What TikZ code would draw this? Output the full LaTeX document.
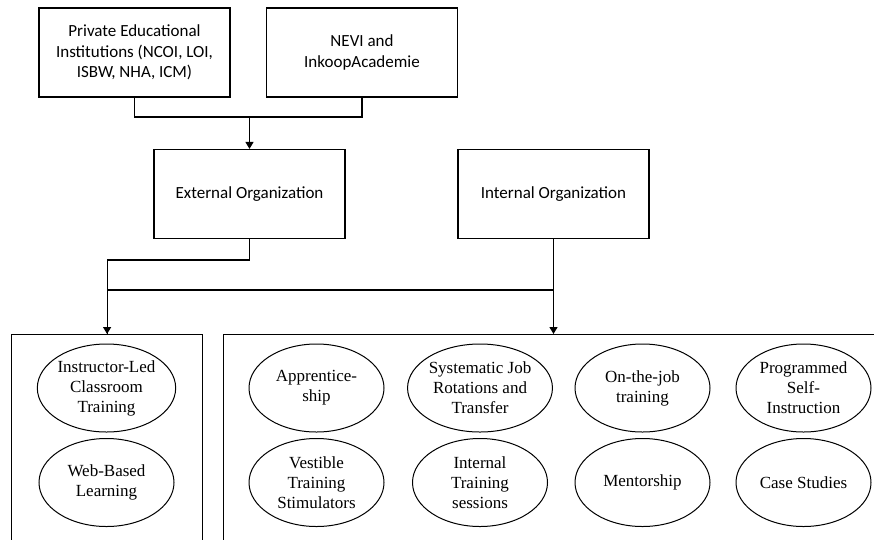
\documentclass[tikz,border=0pt]{standalone}
\usepackage{fontspec}
\setmainfont{Liberation Serif}
\newfontfamily\boxfont{Carlito}
\usetikzlibrary{arrows.meta, positioning, shapes.geometric}

\begin{document}
\begin{tikzpicture}[x=1pt, y=-1pt,
  orgbox/.style={draw, line width=1.2pt, minimum width=191pt, minimum height=89pt,
                 inner sep=2pt, align=center, font=\boxfont\fontsize{17}{20.5}\selectfont},
  method/.style={draw, ellipse, line width=1pt, minimum width=135pt, minimum height=88pt,
                 inner sep=0pt, align=center, font=\fontsize{17}{20}\selectfont},
  groupbox/.style={draw, line width=1.2pt, anchor=north west, minimum height=240pt},
  link/.style={line width=1.2pt},
  arrow/.style={link, -{Triangle[length=7pt, width=8pt]}}
]
\fill[white] (0,0) rectangle (874,539);
\clip (0,0) rectangle (874,539);

%--- Providers ---
\node[orgbox] (pei)  at (134.5,52.5) {Private Educational\\Institutions (NCOI, LOI,\\ISBW, NHA, ICM)};
\node[orgbox] (nevi) at (362,52.5)   {NEVI and\\InkoopAcademie};

%--- Organizations ---
\node[orgbox] (ext) at (249.5,194) {External Organization};
\node[orgbox] (int) at (553.5,194) {Internal Organization};

%--- Method groups ---
\node[groupbox, minimum width=191pt] (extgrp) at (11,334)  {};
\node[groupbox, minimum width=700pt] (intgrp) at (223,334) {};

%--- Methods ---
\node[method] (ilt)  at (106.5,388)   {Instructor-Led\\Classroom\\Training};
\node[method] (wbl)  at (106.5,482.5) {Web-Based\\Learning};
\node[method] (app)  at (316.5,388)   {Apprentice-\\ship};
\node[method] (sjr)  at (480,388)     {Systematic Job\\Rotations and\\Transfer};
\node[method] (ojt)  at (642.5,388)   {On-the-job\\training};
\node[method] (psi)  at (803.5,388)   {Programmed\\Self-\\Instruction};
\node[method] (vts)  at (316.5,482.5) {Vestible\\Training\\Stimulators};
\node[method] (its)  at (480,482.5)   {Internal\\Training\\sessions};
\node[method] (ment) at (642.5,482.5) {Mentorship};
\node[method] (cs)   at (803.5,482.5) {Case Studies};

%--- Connectors ---
\coordinate (topjoin) at (ext.north |- 0,117);
\draw[link] (pei.south) |- (topjoin) -| (nevi.south);
\draw[arrow] (topjoin) -- (ext.north);

\coordinate (extjoin) at (ext.south |- 0,260);
\coordinate (busjoin) at (extgrp.north |- 0,290);
\draw[link] (ext.south) -- (extjoin) -| (extgrp.north);
\draw[arrow] (busjoin) -- (extgrp.north);
\draw[link] (busjoin) -- (int.south |- busjoin);
\draw[arrow] (int.south) -- (int.south |- intgrp.north);

\end{tikzpicture}
\end{document}
